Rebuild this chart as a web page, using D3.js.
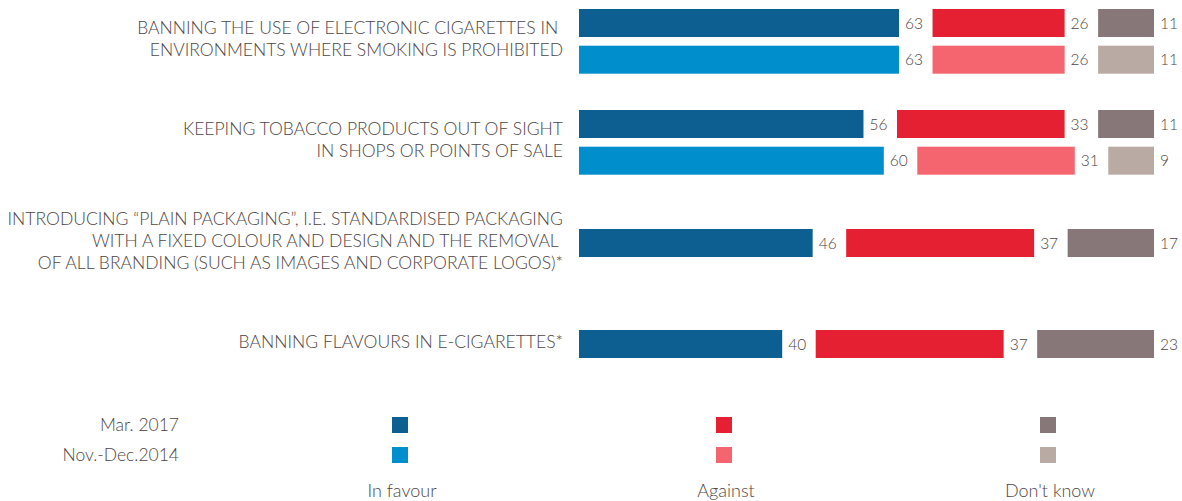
<!DOCTYPE html>
<html><head><meta charset="utf-8">
<script src="https://cdn.jsdelivr.net/npm/d3@7"></script>
<style>
body{margin:0;background:#fff;}
text{font-family:"Segoe UI",Lato,"Open Sans",sans-serif;font-weight:300;}
</style></head>
<body><svg id="c" width="1182" height="501"></svg>
<script>
const categories = [
  ["BANNING THE USE OF ELECTRONIC CIGARETTES IN ", "ENVIRONMENTS WHERE SMOKING IS PROHIBITED"],
  ["KEEPING TOBACCO PRODUCTS OUT OF SIGHT", "IN SHOPS OR POINTS OF SALE"],
  ["INTRODUCING \u201CPLAIN PACKAGING\u201D, I.E. STANDARDISED PACKAGING", "WITH A FIXED COLOUR AND DESIGN AND THE REMOVAL ", "OF ALL BRANDING (SUCH AS IMAGES AND CORPORATE LOGOS)*"],
  ["BANNING FLAVOURS IN E-CIGARETTES*"]
];
const waves = ["Mar. 2017", "Nov.-Dec.2014"];
const answers = ["In favour", "Against", "Don't know"];
const mar2017 = [[63,26,11],[56,33,11],[46,37,17],[40,37,23]];
const nov2014 = [[63,26,11],[60,31,9],null,null];
const colors2017 = ["#0e5f91","#e52033","#887778"];
const colors2014 = ["#008fcc","#f5656f","#b9aaa3"];

const svg = d3.select("#c");
const x = d3.scaleLinear().domain([0,100]).range([0,508]);
const x0 = 579, gap = 33.5;
const rowIdx = categories.map((d,i)=>i);
const y = d3.scalePoint().domain(rowIdx).range([41,344]);
const inner = d3.scaleBand().domain([0,1]).range([-32,32.7]).paddingInner(0.237);
const bh = inner.bandwidth();
const txt = "#4e4647";

rowIdx.forEach(i=>{
  const cy = y(i);
  const series = nov2014[i] ? [mar2017[i], nov2014[i]] : [mar2017[i]];
  series.forEach((vals,s)=>{
    const top = series.length===2 ? cy+inner(s) : cy-bh/2;
    let cum = 0;
    vals.forEach((v,k)=>{
      const start = x0 + x(cum) + k*gap;
      svg.append("rect").attr("x",start).attr("y",top).attr("width",x(v)).attr("height",bh)
        .attr("fill", s===0?colors2017[k]:colors2014[k]);
      svg.append("text").attr("x",start+x(v)+6).attr("y",top+bh/2+5.5)
        .attr("font-size",15.5).attr("fill",txt).text(v);
      cum += v;
    });
  });
  const lines = categories[i];
  lines.forEach((ln,j)=>{
    svg.append("text").attr("x",563).attr("y",cy+(j-(lines.length-1)/2)*22+4)
      .attr("text-anchor","end").attr("font-size",17.55).attr("fill",txt)
      .style("white-space","pre").text(ln);
  });
});

// legend
const lx = d3.scalePoint().domain(answers).range([400,1048]);
const ly = d3.scalePoint().domain(waves).range([425,455]);
waves.forEach((w,s)=>{
  svg.append("text").attr("x",179).attr("y",ly(w)+6).attr("text-anchor","end")
    .attr("font-size",17.5).attr("fill",txt).text(w);
  answers.forEach((a,k)=>{
    svg.append("rect").attr("x",lx(a)-8).attr("y",ly(w)-8).attr("width",16).attr("height",16)
      .attr("fill", s===0?colors2017[k]:colors2014[k]);
  });
});
answers.forEach(a=>{
  svg.append("text").attr("x",lx(a)+2).attr("y",497).attr("text-anchor","middle")
    .attr("font-size",18).attr("fill",txt).text(a);
});
</script></body></html>
